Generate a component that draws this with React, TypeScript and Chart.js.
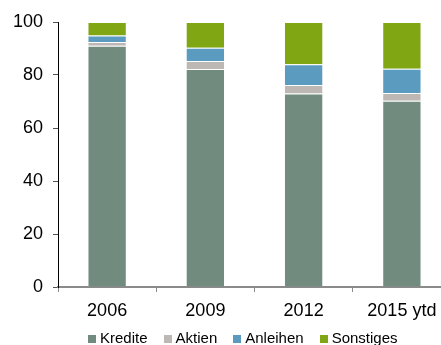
import React, { useEffect, useRef } from "react";
import { Chart, registerables } from "chart.js";

Chart.register(...registerables);

const categories = ["2006", "2009", "2012", "2015 ytd"];
const kredite = [91, 82.3, 73, 70.3];
const aktien = [1.5, 3, 3.2, 2.9];
const anleihen = [2.4, 5, 7.9, 9.2];
const sonstiges = [5.1, 9.7, 15.9, 17.6];
const yTicks = [0, 20, 40, 60, 80, 100];

const FONT = "'Liberation Sans', Arial, Helvetica, sans-serif";

const series = [
  { label: "Kredite", data: kredite, color: "#718b7f" },
  { label: "Aktien", data: aktien, color: "#bdb8b4" },
  { label: "Anleihen", data: anleihen, color: "#5b9bbf" },
  { label: "Sonstiges", data: sonstiges, color: "#80a614" },
];

export default function App() {
  const canvasRef = useRef<HTMLCanvasElement | null>(null);

  useEffect(() => {
    const canvas = canvasRef.current;
    if (!canvas) return;
    const chart = new Chart(canvas, {
      type: "bar",
      data: {
        labels: categories,
        datasets: series.map((s) => ({
          label: s.label,
          data: s.data,
          backgroundColor: s.color,
          borderColor: "rgba(255,255,255,0.35)",
          borderWidth: 1,
          barPercentage: 0.4,
          categoryPercentage: 1,
        })),
      },
      options: {
        animation: false,
        responsive: false,
        maintainAspectRatio: false,
        layout: { padding: { top: 22, left: 0, right: 0, bottom: 0 } },
        plugins: {
          legend: { display: false },
          tooltip: { enabled: false },
        },
        scales: {
          x: {
            stacked: true,
            afterFit: (scale: any) => {
              scale.height = 58;
            },
            border: { display: true, color: "#8a8a8a", width: 2 },
            grid: {
              display: true,
              drawOnChartArea: false,
              drawTicks: true,
              tickLength: 5,
              tickWidth: 1,
              color: "#8a8a8a",
              offset: true,
            },
            ticks: {
              color: "#000",
              padding: 8,
              font: { family: FONT, size: 18 },
              maxRotation: 0,
            },
          },
          y: {
            stacked: true,
            min: 0,
            max: 100,
            afterFit: (scale: any) => {
              scale.width = 58;
            },
            afterBuildTicks: (scale: any) => {
              scale.ticks = yTicks.map((v) => ({ value: v }));
            },
            border: { display: true, color: "#000", width: 1 },
            grid: {
              display: true,
              drawOnChartArea: false,
              drawTicks: true,
              tickLength: 5,
              color: "#555",
            },
            ticks: {
              color: "#000",
              padding: 10,
              font: { family: FONT, size: 18 },
            },
          },
        },
      },
    });
    return () => chart.destroy();
  }, []);

  return (
    <div
      style={{
        position: "fixed",
        left: 0,
        top: 0,
        width: 441,
        height: 345,
        overflow: "hidden",
        background: "#fff",
      }}
    >
      <canvas
        ref={canvasRef}
        width={451}
        height={345}
        style={{ position: "absolute", left: 0, top: 0, width: 451, height: 345 }}
      />
      <div
        style={{
          position: "absolute",
          left: 88,
          top: 329,
          display: "flex",
          gap: 16,
          fontFamily: FONT,
          fontSize: 15,
          lineHeight: "17px",
          color: "#000",
          whiteSpace: "nowrap",
        }}
      >
        {series.map((s) => (
          <div key={s.label} style={{ display: "flex", alignItems: "center" }}>
            <span
              style={{
                display: "inline-block",
                width: 8,
                height: 8,
                background: s.color,
                marginRight: 4,
                marginTop: 2,
              }}
            />
            <span>{s.label}</span>
          </div>
        ))}
      </div>
    </div>
  );
}
